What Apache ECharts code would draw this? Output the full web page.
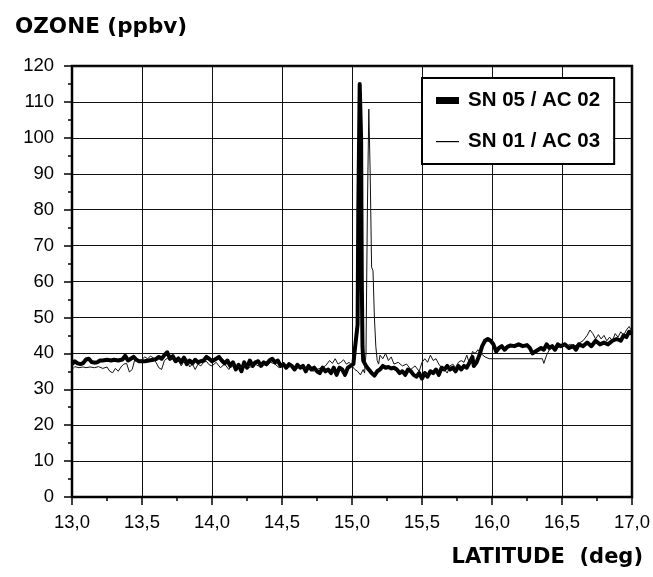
<!DOCTYPE html>
<html>
<head>
<meta charset="utf-8">
<script src="https://cdn.jsdelivr.net/npm/echarts@6/dist/echarts.min.js"></script>
<style>
html,body{margin:0;padding:0;background:#fff;}
#chart{width:653px;height:577px;}
</style>
</head>
<body>
<div id="chart"></div>
<script>
// ---- Data ----
const seriesNames = ['SN 05 / AC 02', 'SN 01 / AC 03'];
const yTicks = [0,10,20,30,40,50,60,70,80,90,100,110,120];
const xTicks = ['13,0','13,5','14,0','14,5','15,0','15,5','16,0','16,5','17,0'];

// SN 05 / AC 02 (thick)
const thickLat = [13.00,13.02,13.04,13.06,13.08,13.10,13.12,13.14,13.16,13.18,13.20,13.22,13.25,13.28,13.30,13.33,13.36,13.38,13.40,13.42,13.44,13.46,13.48,13.50,13.52,13.55,13.58,13.60,13.62,13.64,13.66,13.68,13.70,13.72,13.74,13.76,13.78,13.80,13.82,13.84,13.86,13.88,13.90,13.92,13.94,13.96,13.98,
14.00,14.03,14.05,14.07,14.09,14.11,14.13,14.15,14.17,14.19,14.21,14.23,14.25,14.27,14.29,14.31,14.33,14.35,14.37,14.39,14.41,14.43,14.45,14.47,14.49,14.51,14.53,14.55,14.57,14.59,14.61,14.63,14.65,14.67,14.69,14.71,14.73,14.75,14.77,14.79,14.81,14.83,14.85,14.87,14.89,14.91,14.93,14.95,14.97,14.99,
15.01,15.02,15.03,15.04,15.045,15.055,15.065,15.07,15.075,15.08,15.09,15.10,15.12,15.14,15.16,15.18,15.20,15.22,15.24,15.26,15.28,15.30,15.32,15.34,15.36,15.38,15.40,15.42,15.44,15.46,15.48,15.50,15.52,15.54,15.56,15.58,15.60,15.62,15.64,15.66,15.68,15.70,15.72,15.74,15.76,15.78,15.80,15.82,15.84,15.86,15.87,15.89,15.91,15.93,15.95,15.97,15.99,
16.01,16.03,16.05,16.07,16.09,16.11,16.13,16.16,16.19,16.22,16.25,16.27,16.29,16.31,16.33,16.35,16.37,16.39,16.41,16.43,16.45,16.47,16.49,16.52,16.55,16.58,16.60,16.62,16.65,16.68,16.71,16.74,16.77,16.80,16.83,16.86,16.89,16.92,16.94,16.96,16.98,17.00];
const thickVal = [37.0,37.8,37.2,37.0,37.3,38.3,38.5,37.6,37.4,37.5,38.0,38.0,38.2,38.0,38.2,38.0,38.3,39.3,38.0,38.5,39.0,38.2,37.8,37.8,37.8,38.0,38.2,38.4,39.0,38.5,39.5,40.3,38.5,39.2,37.8,38.6,37.5,38.8,37.0,38.0,37.2,38.2,37.5,37.8,38.0,39.0,38.5,
37.8,38.5,39.0,38.0,37.2,38.0,36.5,37.5,35.5,36.8,35.0,37.5,36.0,38.0,36.5,37.5,37.8,36.5,37.5,37.0,38.0,38.5,37.5,38.0,36.5,37.0,36.0,37.0,36.5,35.5,36.8,36.0,36.5,35.0,36.5,35.5,36.0,35.0,34.5,36.0,35.0,35.5,34.5,36.0,34.0,36.0,35.5,34.0,36.0,36.5,
37.0,41.0,44.5,48.0,80.0,115.0,100.0,60.0,42.0,38.0,37.5,36.5,35.5,34.5,33.8,35.0,35.5,36.5,36.0,36.2,35.8,36.0,35.5,34.5,35.0,34.0,35.5,35.0,34.0,33.5,34.5,33.0,34.5,33.5,35.0,34.5,35.5,34.0,36.0,35.5,36.5,35.5,36.0,35.0,36.5,35.5,36.5,36.0,37.5,39.0,36.5,37.5,39.5,42.0,43.5,44.0,43.5,
42.5,40.5,41.5,42.0,41.0,41.8,42.2,42.0,42.5,42.0,42.3,41.5,40.0,40.5,41.0,41.5,41.0,42.5,41.5,42.0,41.0,42.5,42.0,42.5,41.5,42.0,41.0,42.5,42.0,43.0,42.0,43.5,42.5,43.0,42.5,43.5,44.0,43.5,45.0,44.5,46.0,45.5];

// SN 01 / AC 03 (thin)
const thinLat = [13.00,13.02,13.05,13.08,13.10,13.13,13.16,13.19,13.22,13.25,13.27,13.29,13.31,13.33,13.35,13.37,13.39,13.41,13.43,13.45,13.47,13.49,13.52,13.54,13.56,13.58,13.60,13.62,13.64,13.66,13.68,13.70,13.72,13.74,13.76,13.78,13.80,13.82,13.84,13.86,13.88,13.90,13.92,13.94,13.96,13.98,
14.00,14.03,14.06,14.09,14.12,14.15,14.18,14.21,14.24,14.27,14.30,14.33,14.36,14.39,14.42,14.45,14.48,14.51,14.54,14.57,14.60,14.63,14.66,14.69,14.72,14.75,14.78,14.81,14.84,14.86,14.88,14.90,14.92,14.94,14.96,14.98,
15.00,15.02,15.04,15.06,15.08,15.09,15.10,15.11,15.12,15.13,15.14,15.15,15.16,15.17,15.18,15.19,15.20,15.22,15.24,15.26,15.28,15.30,15.33,15.36,15.39,15.42,15.45,15.48,15.50,15.52,15.54,15.56,15.58,15.60,15.62,15.64,15.66,15.68,15.70,15.72,15.74,15.76,15.78,15.80,15.82,15.84,15.86,15.88,15.90,15.92,15.95,15.98,
16.36,16.37,16.39,16.41,16.44,16.47,16.50,16.53,16.56,16.59,16.62,16.65,16.68,16.70,16.72,16.74,16.76,16.78,16.80,16.82,16.84,16.86,16.88,16.90,16.92,16.94,16.96,16.98,17.00];
const thinVal = [35.5,36.3,36.0,36.2,36.0,36.2,36.0,36.3,35.8,36.2,35.0,34.6,35.8,35.0,36.2,37.0,37.2,34.8,35.5,38.5,37.5,38.0,39.0,38.5,39.2,38.8,37.5,36.0,35.5,38.0,38.6,38.0,39.5,37.5,38.5,36.5,37.8,38.5,36.2,37.0,35.5,37.0,36.5,37.5,37.8,36.8,
36.5,37.5,36.0,37.0,35.5,37.0,36.5,36.0,37.0,36.0,37.2,36.5,37.0,36.5,37.5,37.0,36.0,37.5,36.0,36.5,35.5,36.5,35.8,36.2,35.0,35.5,36.0,36.5,38.0,37.2,38.5,37.0,37.5,38.2,37.0,37.5,
36.5,35.5,35.0,34.0,35.5,34.5,40.0,80.0,108.0,90.0,64.0,63.0,50.0,42.0,38.0,37.0,39.5,38.5,40.0,38.0,39.0,37.0,37.5,36.5,37.0,35.5,36.5,35.0,37.5,38.5,37.5,39.5,38.0,38.5,37.0,36.0,35.5,34.5,36.5,37.0,36.0,37.5,38.0,37.5,39.5,37.0,40.5,40.0,41.0,40.0,39.0,38.5,
38.5,37.2,39.5,41.0,42.0,41.5,42.3,42.0,42.5,42.0,42.8,43.5,45.0,46.5,45.5,44.0,45.2,44.0,45.0,43.5,44.5,43.5,45.5,44.5,46.0,45.0,46.5,47.5,46.0];

const thickData = thickLat.map((x, i) => [x, thickVal[i]]);
const thinData = thinLat.map((x, i) => [x, thinVal[i]]);

const chart = echarts.init(document.getElementById('chart'), null, {renderer: 'canvas'});
const labelFont = "'Liberation Sans', Arial, sans-serif";
const titleFont = "'DejaVu Sans', sans-serif";

chart.setOption({
  animation: false,
  backgroundColor: '#fff',
  title: [
    {text: 'OZONE (ppbv)', left: 10, top: 11,
     textStyle: {fontFamily: titleFont, fontWeight: 'bold', fontSize: 21.5, color: '#000'}},
    {text: 'LATITUDE  (deg)', right: 5, top: 542,
     textStyle: {fontFamily: titleFont, fontWeight: 'bold', fontSize: 21, color: '#000'}}
  ],
  legend: {
    orient: 'vertical',
    left: 422, top: 78,
    width: 195,
    padding: [12, 14, 12, 14],
    itemGap: 20,
    itemWidth: 23,
    itemHeight: 7,
    backgroundColor: '#fff',
    borderColor: '#000',
    borderWidth: 2,
    textStyle: {fontFamily: labelFont, fontWeight: 'bold', fontSize: 20.5, color: '#000', lineHeight: 20, padding: [0,0,0,4]},
    data: [
      {name: seriesNames[0], icon: 'rect'},
      {name: seriesNames[1], icon: 'path://M0,0 L0,0 M0,3 L23,3 L23,4.2 L0,4.2 Z M23,7 L23,7'}
    ]
  },
  grid: {left: 72, right: 21, top: 66, bottom: 80, show: true, borderColor: '#000', borderWidth: 2.5, backgroundColor: 'transparent'},
  xAxis: {
    type: 'value', min: 13, max: 17, interval: 0.5,
    axisLine: {show: true, onZero: false, lineStyle: {color: '#000', width: 2}},
    axisTick: {show: true, length: 8, lineStyle: {color: '#000', width: 1.5}},
    minorTick: {show: true, splitNumber: 2, length: 4, lineStyle: {color: '#000', width: 1.5}},
    axisLabel: {margin: 16, fontFamily: labelFont, fontSize: 18.5, color: '#000',
      formatter: v => xTicks[Math.round((v - 13) / 0.5)] || ''},
    splitLine: {show: true, lineStyle: {color: '#111', width: 1}}
  },
  yAxis: {
    type: 'value', min: 0, max: 120, interval: 10,
    axisLine: {show: true, onZero: false, lineStyle: {color: '#000', width: 2}},
    axisTick: {show: true, length: 8, lineStyle: {color: '#000', width: 1.5}},
    minorTick: {show: true, splitNumber: 2, length: 4, lineStyle: {color: '#000', width: 1.5}},
    axisLabel: {margin: 18, fontFamily: labelFont, fontSize: 18.5, color: '#000',
      formatter: v => (yTicks.indexOf(v) >= 0 ? String(v) : '')},
    splitLine: {show: true, lineStyle: {color: '#111', width: 1}}
  },
  series: [
    {name: seriesNames[0], type: 'line', data: thickData, showSymbol: false, symbol: 'none',
     color: '#000', lineStyle: {color: '#000', width: 4, join: 'round'}, z: 3},
    {name: seriesNames[1], type: 'line', data: thinData, showSymbol: false, symbol: 'none',
     color: '#000', lineStyle: {color: '#111', width: 1}, z: 4}
  ]
});
</script>
</body>
</html>
